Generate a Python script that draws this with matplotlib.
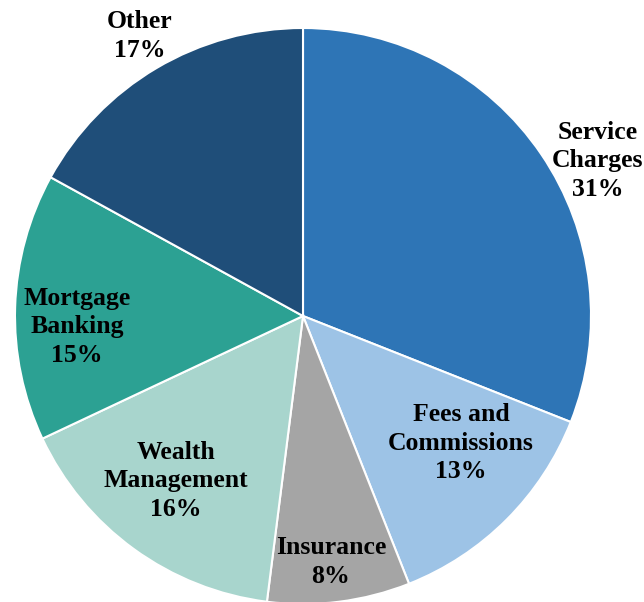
import matplotlib
matplotlib.use("Agg")
import matplotlib.pyplot as plt

# Revenue mix by category
categories = ["Service\nCharges", "Fees and\nCommissions", "Insurance",
              "Wealth\nManagement", "Mortgage\nBanking", "Other"]
shares = [31, 13, 8, 16, 15, 17]
colors = ["#2E75B6", "#9DC3E6", "#A5A5A5", "#A8D5CD", "#2CA193", "#1F4E79"]

# label anchor points (pixels from top-left of the canvas)
label_xy = [(598, 161), (461, 443), (331, 562), (176, 481), (77, 327), (140, 36)]

W, H = 644, 602
fig = plt.figure(figsize=(W / 100, H / 100), dpi=100)
ax = fig.add_axes([0, 0, 1, 1])

ax.pie(shares, colors=colors, startangle=90, counterclock=False,
       center=(303, H - 316), radius=288, frame=True,
       wedgeprops=dict(edgecolor="white", linewidth=1.5))
ax.set_xlim(0, W)
ax.set_ylim(0, H)
ax.set_aspect("equal")
ax.axis("off")

for name, val, (x, y) in zip(categories, shares, label_xy):
    ax.text(x, H - y, f"{name}\n{val}%", ha="center", va="center",
            fontsize=18.5, fontweight="bold", family="Liberation Serif",
            linespacing=1.3, color="black")

fig.savefig("out.png", dpi=100)
